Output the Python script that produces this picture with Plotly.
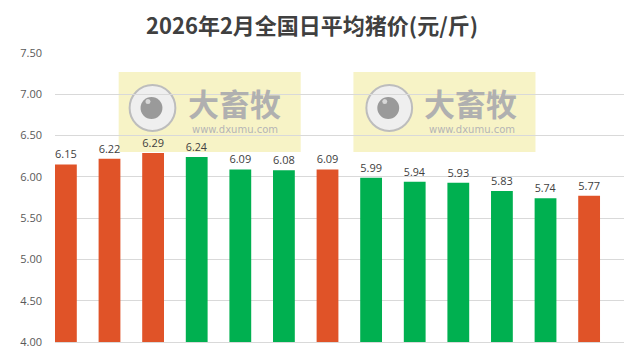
import plotly.graph_objects as go

days = [1, 2, 3, 4, 5, 6, 7, 8, 9, 10, 11, 12, 13]
prices = [6.15, 6.22, 6.29, 6.24, 6.09, 6.08, 6.09, 5.99, 5.94, 5.93, 5.83, 5.74, 5.77]
trend = ["up", "up", "up", "down", "down", "down", "up", "down", "down", "down", "down", "down", "up"]
y_ticks = [4.0, 4.5, 5.0, 5.5, 6.0, 6.5, 7.0, 7.5]
title_text = "2026年2月全国日平均猪价(元/斤)"

RED = "#E05328"
GREEN = "#00B050"
colors = [RED if t == "up" else GREEN for t in trend]

fig = go.Figure()
fig.add_trace(go.Bar(
    x=days, y=prices, width=0.5,
    marker=dict(color=colors, line=dict(width=0)),
    text=[f"{v:.2f}" for v in prices], textposition="outside",
    textfont=dict(size=11, color="#404040", family="Open Sans"),
    cliponaxis=False,
))

# page offset (body margin) is 8px
OFF = 8
W, H = 640 - OFF, 361 - OFF
# plot area in screen pixels
L, R, T, B = 52, 624, 53, 342
def px(x):
    return (x - L) / (R - L)
def py(y):
    return (B - y) / (B - T)

shapes = []
annotations = []
for bx0, bx1, cx in [(116, 299, 150), (352, 535, 388)]:
    shapes.append(dict(type="rect", xref="paper", yref="paper", x0=px(bx0), x1=px(bx1),
                       y0=py(152), y1=py(72), fillcolor="#F7F3C6", line=dict(width=0), layer="below"))
    shapes.append(dict(type="circle", xref="paper", yref="paper", x0=px(cx - 23), x1=px(cx + 23),
                       y0=py(131), y1=py(85), fillcolor="#EFEFEF", line=dict(color="#BDBDBD", width=2), layer="below"))
    shapes.append(dict(type="circle", xref="paper", yref="paper", x0=px(cx - 12), x1=px(cx + 10),
                       y0=py(119), y1=py(97), fillcolor="#9A9A9A", line=dict(width=0), layer="below"))
    shapes.append(dict(type="circle", xref="paper", yref="paper", x0=px(cx - 7), x1=px(cx - 2),
                       y0=py(104), y1=py(99), fillcolor="#D8D8D8", line=dict(width=0), layer="below"))
    annotations.append(dict(text="<b>大畜牧</b>", xref="paper", yref="paper", x=px(cx + 82), y=py(102),
                            showarrow=False, font=dict(size=31, color="#B0B0B0", family="Noto Sans CJK SC"),
                            xanchor="center", yanchor="middle"))
    annotations.append(dict(text="www.dxumu.com", xref="paper", yref="paper", x=px(cx + 83), y=py(130),
                            showarrow=False, font=dict(size=10, color="#B5B5B5", family="DejaVu Sans"),
                            xanchor="center", yanchor="middle"))

fig.update_layout(
    width=W, height=H,
    margin=dict(l=L - OFF, r=640 - R, t=T - OFF, b=361 - B),
    paper_bgcolor="white", plot_bgcolor="white",
    title=dict(text="<b>" + title_text + "</b>", x=(312 - OFF) / W, xanchor="center",
               y=1 - (26 - OFF) / H, yanchor="middle",
               font=dict(size=22, color="#404040", family="Noto Sans CJK SC")),
    showlegend=False,
    shapes=shapes, annotations=annotations,
    bargap=0.5,
)
fig.update_xaxes(range=[0.75, 13.8], showticklabels=False, showgrid=False, zeroline=False,
                 showline=True, linecolor="#D9D9D9", linewidth=1, ticks="")
fig.update_yaxes(range=[4.0, 7.5], tickvals=y_ticks, ticktext=[f"{v:.2f}" for v in y_ticks],
                 showgrid=True, gridcolor="#D9D9D9", gridwidth=1, zeroline=False, showline=False,
                 tickfont=dict(size=11, color="#595959", family="Open Sans"), ticklabelstandoff=12)

fig.write_html("out.html")
